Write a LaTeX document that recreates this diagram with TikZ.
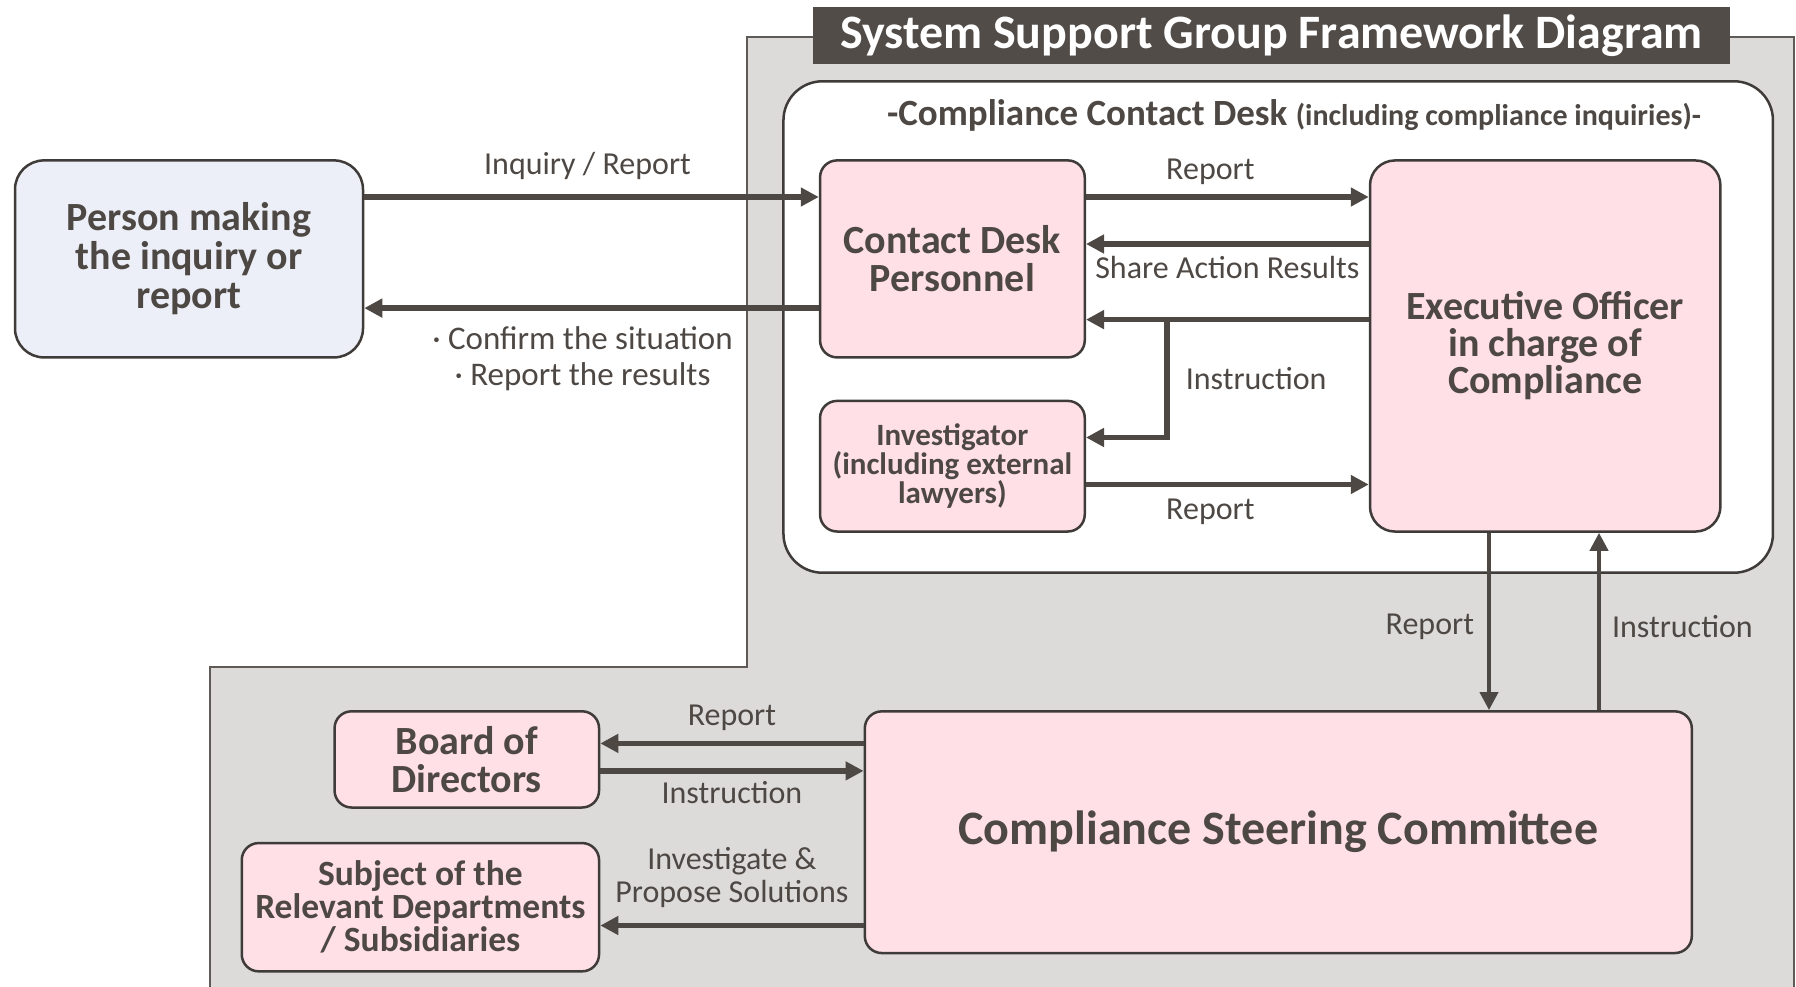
\documentclass[tikz,border=0pt]{standalone}
\usepackage{fontspec}
\setmainfont{Carlito}
\usetikzlibrary{arrows.meta, positioning, calc}

\definecolor{inkgray}{HTML}{4E4844}
\definecolor{bargray}{HTML}{524C48}
\definecolor{groupgray}{HTML}{DCDBDA}
\definecolor{deskpink}{HTML}{FFE0E6}
\definecolor{personblue}{HTML}{ECEFF7}
\definecolor{edgegray}{HTML}{3F3B39}

\tikzset{
    box/.style = {
        draw = edgegray,
        line width = 2.5pt,
        fill = deskpink,
        rounded corners = 17pt,
        align = center,
        inner sep = 0pt,
        text = inkgray,
        font = \bfseries\fontsize{40}{38}\selectfont
    },
    flow/.style = {->, draw = inkgray, line width = 5.5pt},
    vflow/.style = {->, draw = inkgray, line width = 4pt},
    lbl/.style = {
        text = inkgray,
        inner sep = 0pt,
        align = center,
        font = \fontsize{32}{35.5}\selectfont
    }
}

\begin{document}
\begin{tikzpicture}[
            x = 1pt, y = -1pt, % one unit per pixel, y pointing down
            > = {Triangle[length = 18pt, width = 18pt]} % arrow head style
        ]

        \useasboundingbox (0,0) rectangle (1796,987);

        % grey group area behind the framework
        \fill[groupgray, draw = inkgray!90, line width = 2pt]
            (747,37) -- (1794,37) -- (1794,995) -- (210,995) -- (210,667) -- (747,667) -- cycle;

        \node[fill = bargray, minimum width = 917pt, minimum height = 57pt, inner sep = 0pt,
              text = white, font = \bfseries\fontsize{48}{52}\selectfont]
                                                        (title)    at ( 1271.5 ,  35.5 ) {System Support Group Framework Diagram};

        \node[draw = edgegray, line width = 2.5pt, fill = white, rounded corners = 39pt,
              minimum width = 989.5pt, minimum height = 491.4pt]
                                                        (deskarea) at ( 1278.2 , 327   ) {};
        \node[text = inkgray, inner sep = 0pt, font = \bfseries]
                                                        (deskhead) at ( 1294   , 115.7 )
            {{\fontsize{37}{40}\selectfont -Compliance Contact Desk\ }{\fontsize{30}{32}\selectfont (including compliance inquiries)-}};

        \node[box, fill = personblue, rounded corners = 29pt, minimum width = 348pt, minimum height = 197pt, font = \bfseries\fontsize{40}{39}\selectfont]
                                                        (person)   at (  189   , 258.9 ) {Person making\\the inquiry or\\report};
        \node[box, minimum width = 264.7pt, minimum height = 197pt]
                                                        (desk)     at (  952.4 , 258.9 ) {Contact Desk\\Personnel};
        \node[box, minimum width = 264.7pt, minimum height = 130.6pt, font = \bfseries\fontsize{31}{29}\selectfont]
                                                        (invest)   at (  952.4 , 466.2 ) {Investigator\\(including external\\lawyers)};
        \node[box, rounded corners = 25pt, minimum width = 350.4pt, minimum height = 371.1pt, font = \bfseries\fontsize{40}{37}\selectfont]
                                                        (exec)     at ( 1545.2 , 346   ) {Executive Officer\\in charge of\\Compliance};
        \node[box, minimum width = 827pt, minimum height = 241.7pt, font = \bfseries\fontsize{48}{50}\selectfont]
                                                        (steering) at ( 1278.3 , 832.2 ) {Compliance Steering Committee};
        \node[box, minimum width = 264.5pt, minimum height = 96.2pt]
                                                        (board)    at (  466.8 , 759.4 ) {Board of\\Directors};
        \node[box, minimum width = 357.3pt, minimum height = 128.3pt, font = \bfseries\fontsize{35.5}{33}\selectfont]
                                                        (subject)  at (  420.4 , 907.2 ) {Subject of the\\Relevant Departments\\/ Subsidiaries};

        % connector levels
        \coordinate (inq)   at ([yshift =  61.9pt]person.east);
        \coordinate (back)  at ([yshift = -49.2pt]desk.west);
        \coordinate (rep1)  at ([yshift =  61.9pt]desk.east);
        \coordinate (share) at ([yshift = 102pt]exec.west);
        \coordinate (instr) at ([yshift =  26.4pt]exec.west);
        \coordinate (fork)  at (1167, 319.6);
        \coordinate (rep2)  at ([yshift = -18.3pt]invest.east);
        \coordinate (down)  at ([xshift = -56.2pt]exec.south);
        \coordinate (up)    at ([xshift =  53.8pt]exec.south);
        \coordinate (rep3)  at ([yshift =  88.8pt]steering.west);
        \coordinate (order) at ([yshift = -11.5pt]board.east);
        \coordinate (prop)  at ([yshift = -18.3pt]subject.east);

        \draw[flow] (inq)   -- node[lbl, above = 15pt, xshift = -4pt] {Inquiry / Report} (inq -| desk.west);
        \draw[flow] (back)  -- node[lbl, below = 16pt, xshift = -9pt, font = \fontsize{33}{35.5}\selectfont] {· Confirm the situation\\· Report the results} (back -| person.east);
        \draw[flow] (rep1)  -- node[lbl, above = 10pt, xshift = -17pt] {Report} (rep1 -| exec.west);
        \draw[flow] (share) -- node[lbl, below = 10pt] {Share Action Results} (share -| desk.east);
        \draw[flow] (instr) -- (instr -| desk.east);
        \draw[flow] (fork)  |- node[lbl, right = 16pt, pos = 0.25] {Instruction} ([yshift = 28.7pt]invest.east);
        \draw[flow] (rep2)  -- node[lbl, below = 12pt, xshift = -17pt] {Report} (rep2 -| exec.west);
        \draw[vflow] (down) -- node[lbl, left = 13pt, pos = 0.53] {Report} (down |- steering.north);
        \draw[vflow] (up |- steering.north) -- node[lbl, right = 11pt, pos = 0.47] {Instruction} (up);
        \draw[flow] (rep3)  -- node[lbl, above = 10pt] {Report} (rep3 -| board.east);
        \draw[flow] (order) -- node[lbl, below = 8pt] {Instruction} (order -| steering.west);
        \draw[flow] (prop -| steering.west) -- node[lbl, above = 15.5pt, font = \fontsize{32}{32.5}\selectfont] {Investigate \&\\Propose Solutions} (prop);

\end{tikzpicture}
\end{document}
